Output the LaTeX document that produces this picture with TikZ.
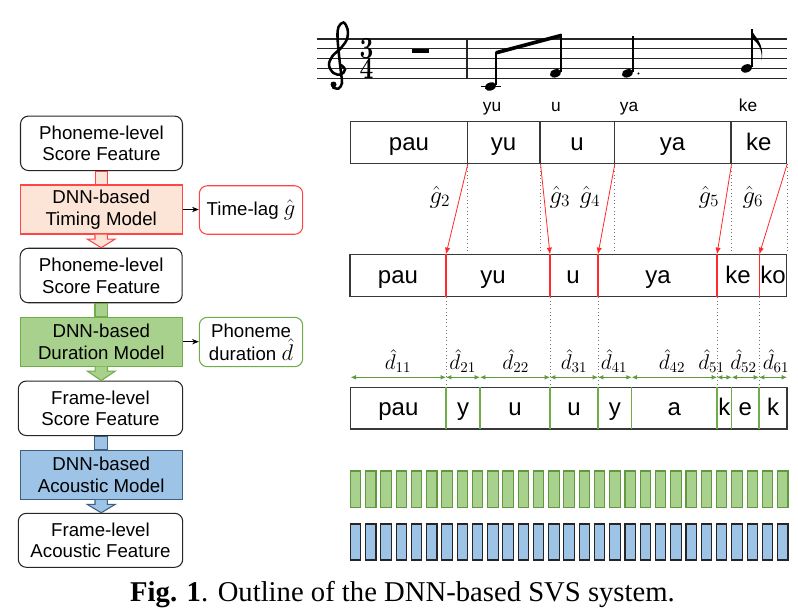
\RequirePackage{fix-cm}
\documentclass[tikz,border=0pt]{standalone}
\usepackage[no-math]{fontspec}
\setmainfont{Liberation Sans}
\newfontfamily\capfont{Liberation Serif}
\usetikzlibrary{calc,arrows.meta}
\newdimen\pxu \pxu=0.75pt
\newcommand\boxfont{\fontsize{14}{16.3}\selectfont}
\newcommand\phfont{\fontsize{18}{20}\selectfont}
\newcommand\lyfont{\fontsize{13}{15}\selectfont}
\newcommand\mlfont{\fontsize{16}{18}\selectfont}
\newcommand\glfont{\fontsize{18.5}{20}\selectfont}
\definecolor{peach}{HTML}{FCE4D6}
\definecolor{redb}{HTML}{FF4545}
\definecolor{redl}{HTML}{FF2A2A}
\definecolor{greenf}{HTML}{A9D18E}
\definecolor{greenb}{HTML}{70AD47}
\definecolor{greend}{HTML}{62983F}
\definecolor{bluef}{HTML}{9DC3E6}
\definecolor{blueb}{HTML}{3E5F80}
\definecolor{rowb}{HTML}{383838}
\newcommand\blockarrow[3]{%
  \draw[#3] ($(#1.south)+(-6.2,0)$) -- ($(#1.south)+(-6.2,4.5)$) -- ($(#1.south)+(-14,4.5)$)
    -- (#1.south |- #2.north) -- ($(#1.south)+(14,4.5)$) -- ($(#1.south)+(6.2,4.5)$) -- ($(#1.south)+(6.2,0)$);}
\begin{document}
\begin{tikzpicture}[x=0.75pt,y=-0.75pt,
  sbox/.style={draw=black!85, line width=0.8pt, rounded corners=6pt, minimum width=162\pxu,
    minimum height=54.5\pxu, align=center, inner sep=0pt, font=\boxfont},
  mbox/.style={line width=0.8pt, minimum width=162.3\pxu, minimum height=49\pxu,
    align=center, inner sep=0pt, font=\boxfont},
  obox/.style={line width=0.8pt, rounded corners=6pt, minimum width=103.4\pxu,
    minimum height=48.5\pxu, align=center, inner sep=0pt, font=\boxfont, fill=white},
  cell/.style={draw=rowb, line width=0.8pt, minimum height=41.6\pxu, inner sep=0pt, font=\phfont,
    text height=14.5pt, text depth=3.25pt},
  lab/.style={inner sep=0pt, font=\phfont, text height=14.5pt, text depth=3.25pt},
  lyric/.style={anchor=base, inner sep=0pt, font=\lyfont},
  mlab/.style={inner sep=0pt, font=\mlfont},
  glab/.style={inner sep=0pt, font=\glfont},
  staffline/.style={line width=0.8pt, black!85},
  gdot/.style={dotted, line width=0.7pt, black!55},
  redarrow/.style={redl, line width=0.6pt, -{Latex[length=5pt,width=4pt]}},
  darrow/.style={greend, line width=0.6pt, {Latex[length=4pt,width=3.5pt]}-{Latex[length=4pt,width=3.5pt]}},
  sidearrow/.style={line width=0.6pt, -{Stealth[length=5pt,width=4pt]}}]
\useasboundingbox (0,0) rectangle (798,615);

% ---------------- staff ----------------
\foreach \k in {0,...,4} \draw[staffline] (317,{39+9.8*\k}) -- (787,{39+9.8*\k});
\draw[staffline] (467,39) -- (467,78.2);
% treble clef (drawn)
\draw[line width=1.9pt, line cap=round] plot[smooth, tension=0.6] coordinates {
  (341,65) (345,69.5) (341,74.5) (333.5,73) (329,65) (332.5,56) (341,48) (347,39)
  (347.5,29) (343.5,22.5) (338.5,27) (337.5,37) (339,55) (341,73) (342,83) (338.5,88.5) (333,87.5)};
\fill (333.5,84.5) circle [radius=3];
\node[inner sep=0pt, xscale=0.8] (ts3) at (366.5,48.9) {\fontsize{23}{23}\selectfont$\mathbf{3}$};
\node[inner sep=0pt, xscale=0.8] (ts4) at (366.5,68.5) {\fontsize{23}{23}\selectfont$\mathbf{4}$};
\fill (412,48.8) rectangle (429,53.2);
% notes
\draw[line width=0.8pt] (481,86.5) -- (501,86.5);
\begin{scope}[shift={(490.5,86.5)}, rotate=20]\fill (0,0) ellipse [x radius=5.8, y radius=4];\end{scope}
\begin{scope}[shift={(555.5,73.3)}, rotate=20]\fill (0,0) ellipse [x radius=5.8, y radius=4];\end{scope}
\begin{scope}[shift={(627.5,73.3)}, rotate=20]\fill (0,0) ellipse [x radius=5.8, y radius=4];\end{scope}
\begin{scope}[shift={(746.5,68.4)}, rotate=20]\fill (0,0) ellipse [x radius=5.8, y radius=4];\end{scope}
\draw[line width=0.8pt] (496,85) -- (496,52);
\draw[line width=0.8pt] (561,72) -- (561,34);
\draw[line width=0.8pt] (633,72) -- (633,36);
\draw[line width=0.8pt] (752,67) -- (752,29);
\fill (495.6,51) -- (561.4,33.5) -- (561.4,37.3) -- (495.6,54.8) -- cycle;
\fill (638.5,73.5) circle [radius=1.1];
\fill (751.6,29) .. controls (753,37) and (765,41) .. (761.5,61) .. controls (763,47) and (756,42) .. (751.6,38) -- cycle;
% lyrics
\node[lyric] (ly1) at (492,111) {yu};
\node[lyric] (ly2) at (556,111) {u};
\node[lyric] (ly3) at (629,111) {ya};
\node[lyric] (ly4) at (748,111) {ke};

% ---------------- left column ----------------
\node[sbox] (s1) at (101.5,143.3) {Phoneme-level\\Score Feature};
\node[mbox, draw=redb, fill=peach] (tm) at (101.2,209.5) {DNN-based\\Timing Model};
\node[obox, draw=redb] (tl) at (251,210) {Time-lag {\fontsize{17}{17}\selectfont$\hat{g}$}};
\node[sbox] (s2) at (101.2,275.5) {Phoneme-level\\Score Feature};
\node[mbox, draw=greenb, fill=greenf, minimum height=48.7\pxu] (dm) at (101.3,341.7) {DNN-based\\Duration Model};
\node[obox, draw=greenb, minimum height=49.4\pxu] (pd) at (251,342) {Phoneme\\duration {\fontsize{17}{17}\selectfont$\hat{d}$}};
\node[sbox, minimum width=164.4\pxu] (fs) at (100.5,408.3) {Frame-level\\Score Feature};
\node[mbox, draw=blueb, fill=bluef, minimum height=49.3\pxu] (am) at (101.2,474.7) {DNN-based\\Acoustic Model};
\node[sbox, minimum width=164.4\pxu, minimum height=54\pxu] (fa) at (100.5,540.3) {Frame-level\\Acoustic Feature};

\draw[draw=redb, fill=peach, line width=0.8pt] ($(s1.south)+(-6.2,0)$) rectangle ($(tm.north)+(6.2,0)$);
\draw[draw=greenb, fill=greenf, line width=0.8pt] ($(s2.south)+(-6.2,0)$) rectangle ($(dm.north)+(6.2,0)$);
\draw[draw=blueb, fill=bluef, line width=0.8pt] ($(fs.south)+(-6.2,0)$) rectangle ($(am.north)+(6.2,0)$);
\blockarrow{tm}{s2}{draw=redb, fill=peach, line width=0.8pt}
\blockarrow{dm}{fs}{draw=greenb, fill=greenf, line width=0.8pt}
\blockarrow{am}{fa}{draw=blueb, fill=bluef, line width=0.8pt}
\draw[sidearrow] (tm.east) -- (tm.east -| tl.west);
\draw[sidearrow] (dm.east) -- (dm.east -| pd.west);

% ---------------- row 1 ----------------
\node[cell, minimum width=116.6\pxu] (c1) at (409,142.5) {pau};
\node[cell, minimum width=72.7\pxu] (c2) at (503.65,142.5) {yu};
\node[cell, minimum width=74.3\pxu] (c3) at (577.15,142.5) {u};
\node[cell, minimum width=116.7\pxu] (c4) at (672.65,142.5) {ya};
\node[cell, minimum width=55.7\pxu] (c5) at (758.85,142.5) {ke};

% ---------------- row 2 ----------------
\node[draw=rowb, line width=0.8pt, minimum width=436.7\pxu, minimum height=42.4\pxu, inner sep=0pt] (r2) at (568.35,275.5) {};
\node[lab] (p1) at (398,275.5) {pau};
\node[lab] (p2) at (493,275.5) {yu};
\node[lab] (p3) at (573,275.5) {u};
\node[lab] (p4) at (658,275.5) {ya};
\node[lab] (p5) at (738,275.5) {ke};
\node[lab] (p6) at (773,275.5) {ko};

% ---------------- row 3 ----------------
\node[draw=rowb, line width=0.8pt, minimum width=436.3\pxu, minimum height=41.7\pxu, inner sep=0pt] (r3) at (568.85,408.15) {};
\foreach \x in {446,480,550,598,631.7,717,731.7,759}
  \draw[greenb, line width=0.9pt] (\x,387.3) -- (\x,429);
\node[lab] (q1) at (398.35,408.15) {pau};
\node[lab] (q2) at (463,408.15) {y};
\node[lab] (q3) at (515,408.15) {u};
\node[lab] (q4) at (574,408.15) {u};
\node[lab] (q5) at (614.85,408.15) {y};
\node[lab] (q6) at (674.35,408.15) {a};
\node[lab] (q7) at (724.35,408.15) {k};
\node[lab] (q8) at (745.35,408.15) {e};
\node[lab] (q9) at (773,408.15) {k};

% target coordinates on row 2
\coordinate (t1) at (446,254.3);
\coordinate (t2) at (550,254.3);
\coordinate (t3) at (598,254.3);
\coordinate (t4) at (717,254.3);
\coordinate (t5) at (759.3,254.3);

% dotted guides
\foreach \c in {c1,c2,c3,c4,c5} \draw[gdot] (\c.south east) -- (\c.south east |- r2.north);
\foreach \t in {t1,t2,t3,t4,t5} \draw[gdot] (\t |- r2.south) -- (\t |- r3.north);

% red timing arrows
\draw[redarrow] (c1.south east) -- (t1);
\draw[redarrow] (c2.south east) -- (t2);
\draw[redarrow] (c3.south east) -- (t3);
\draw[redarrow] (c4.south east) -- (t4);
\draw[redarrow] (c5.south east) -- (t5);
\foreach \t in {t1,t2,t3,t4,t5} \draw[redl, line width=0.9pt] (\t) -- (\t |- r2.south);

\node[glab] (g2) at (440,197) {$\hat{g}_2$};
\node[glab] (g3) at (560,197) {$\hat{g}_3$};
\node[glab] (g4) at (590,197) {$\hat{g}_4$};
\node[glab] (g5) at (709,197) {$\hat{g}_5$};
\node[glab] (g6) at (753,197) {$\hat{g}_6$};

% duration arrows
\foreach \n/\x in {0/350.7,1/446,2/480,3/550,4/598,5/631.7,6/717,7/731.7,8/759,9/787}
  \coordinate (b\n) at (\x,377.3);
\foreach \a/\b in {b0/b1,b1/b2,b2/b3,b3/b4,b4/b5,b5/b6,b6/b7,b7/b8,b8/b9}
  \draw[darrow] (\a) -- (\b);
\node[mlab] (d11) at (398,361) {$\hat{d}_{11}$};
\node[mlab] (d21) at (462.7,361) {$\hat{d}_{21}$};
\node[mlab] (d22) at (515.7,361) {$\hat{d}_{22}$};
\node[mlab] (d31) at (574,361) {$\hat{d}_{31}$};
\node[mlab] (d41) at (614,361) {$\hat{d}_{41}$};
\node[mlab] (d42) at (672,361) {$\hat{d}_{42}$};
\node[mlab] (d51) at (711.5,361) {$\hat{d}_{51}$};
\node[mlab] (d52) at (743.5,361) {$\hat{d}_{52}$};
\node[mlab] (d61) at (776,361) {$\hat{d}_{61}$};

% frame bars
\foreach \i in {0,...,28} {
  \draw[fill=greenf, draw=greend, line width=0.8pt] ({350.3+15.26*\i},471) rectangle ++(10.4,36.3);
  \draw[fill=bluef, draw=black!85, line width=0.8pt] ({350.3+15.26*\i},524) rectangle ++(10.4,36);
}

% caption
\node[anchor=base, inner sep=0pt] (cap) at (402.5,601) {\capfont\fontsize{21.5}{24}\selectfont\textbf{Fig. 1}. Outline of the DNN-based SVS system.};
\end{tikzpicture}
\end{document}
